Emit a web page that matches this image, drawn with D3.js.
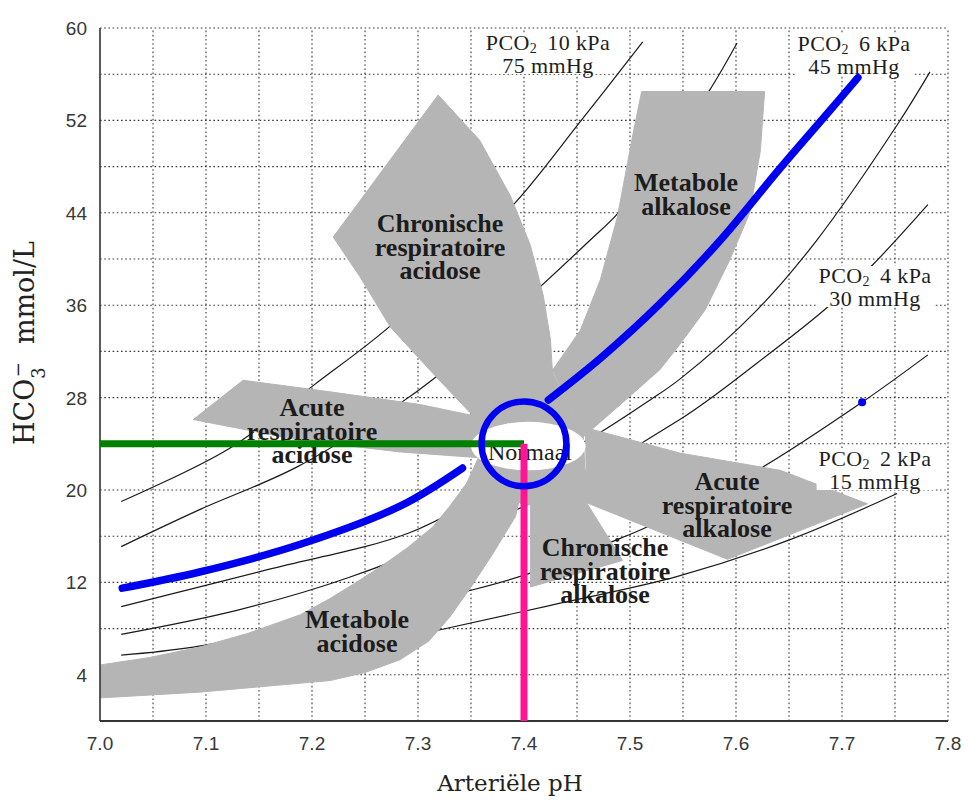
<!DOCTYPE html>
<html>
<head>
<meta charset="utf-8">
<script src="https://cdn.jsdelivr.net/npm/d3@7"></script>
<style>
  body { margin:0; background:#fff; }
  svg { display:block; }
</style>
</head>
<body>
<div id="chart"></div>
<script>
// axis ticks
const phTicks = ["7.0","7.1","7.2","7.3","7.4","7.5","7.6","7.7","7.8"];
const hco3Ticks = [60,52,44,36,28,20,12,4];

// PCO2 isopleths, [pH, HCO3]
const iso10 = [[7.02,19.0],[7.122,23.6],[7.202,29.1],[7.275,34.3],[7.33,39.3],[7.392,44.9],[7.454,52.0],[7.512,58.8]];
const iso8  = [[7.02,15.1],[7.094,18.3],[7.186,22.0],[7.283,27.5],[7.313,29.5],[7.39,35.5],[7.462,41.6],[7.489,44.0],[7.54,50.0],[7.575,54.6],[7.601,58.7]];
const iso5  = [[7.02,9.9],[7.158,13.1],[7.292,16.3],[7.38,20.5],[7.465,24.6],[7.519,27.8],[7.547,29.6],[7.62,35.6],[7.676,41.6],[7.752,51.6],[7.783,56.2]];
const iso4  = [[7.02,7.5],[7.13,9.6],[7.234,12.4],[7.40,18.6],[7.547,26.1],[7.62,31.0],[7.686,35.8],[7.729,39.5],[7.781,44.7]];
const iso3  = [[7.02,5.7],[7.088,6.4],[7.22,8.7],[7.349,11.3],[7.406,12.8],[7.493,15.9],[7.516,16.8],[7.62,21.7],[7.719,27.6],[7.781,31.7]];
const iso2  = [[7.02,3.7],[7.2,5.6],[7.321,7.9],[7.434,10.2],[7.544,12.5],[7.651,15.7],[7.752,19.7]];

// 6 kPa isopleth, drawn in blue
const blueLow  = [[7.021,11.5],[7.094,12.9],[7.189,15.3],[7.283,18.6],[7.342,21.9]];
const blueHigh = [[7.423,27.8],[7.472,31.4],[7.528,36.1],[7.585,41.6],[7.642,47.9],[7.689,52.9],[7.715,55.7]];
const bluePoint = [7.719,27.6];

// grey regions (outlines as [pH, HCO3])
const chronAcid = [[7.319,54.2],[7.358,50.3],[7.387,45.5],[7.406,41.2],[7.418,36.9],[7.425,33.0],[7.427,30.0],[7.406,25.2],[7.349,26.7],[7.314,30.1],[7.274,34.1],[7.245,38.5],[7.220,41.9]];
const metAlk    = [[7.511,54.5],[7.627,54.5],[7.623,49.4],[7.613,44.0],[7.594,39.9],[7.571,35.6],[7.547,32.6],[7.528,30.4],[7.491,27.4],[7.456,24.6],[7.427,30.4],[7.453,33.8],[7.472,38.2],[7.488,43.6],[7.503,50.9]];
const acuteAcid = [[7.088,26.1],[7.135,29.5],[7.217,28.5],[7.302,27.4],[7.349,26.5],[7.357,22.8],[7.283,23.3],[7.189,24.3]];
const metAcid   = [[7.0,2.0],[7.094,2.5],[7.217,3.5],[7.25,4.2],[7.283,5.3],[7.31,6.9],[7.33,9.0],[7.35,11.6],[7.37,14.4],[7.392,17.7],[7.40,21.0],
                   [7.357,22.8],[7.346,20.6],[7.33,18.6],[7.314,16.8],[7.29,15.0],[7.267,13.5],[7.24,11.9],[7.217,10.6],[7.189,9.2],[7.14,7.6],[7.094,6.4],[7.047,5.5],[7.0,4.85]];
const chronAlk  = [[7.40,22.0],[7.406,19.7],[7.406,11.6],[7.493,13.9],[7.459,18.9],[7.462,21.7]];
const acuteAlk  = [[7.458,25.4],[7.547,23.2],[7.642,21.7],[7.724,18.8],[7.592,14.0],[7.459,18.9]];
const centre    = [[7.349,26.5],[7.427,30.2],[7.456,24.6],[7.459,18.9],[7.398,18.7],[7.357,22.8]];

const normal = [7.4, 24];
const normalEllipse = [7.404, 23.8];

const pco2Kpa  = [10, 6, 4, 2];
const pco2MmHg = [75, 45, 30, 15];
const regionNames = [
  ["Chronische","respiratoire","acidose"],
  ["Metabole","alkalose"],
  ["Acute","respiratoire","acidose"],
  ["Acute","respiratoire","alkalose"],
  ["Chronische","respiratoire","alkalose"],
  ["Metabole","acidose"]
];

let width = 969, height = 800,
    margin = { top:28, right:21, bottom:79, left:100 };

let xScale = d3.scaleLinear().domain([7.0,7.8]).range([margin.left, width - margin.right]);
let yScale = d3.scaleLinear().domain([0,60]).range([height - margin.bottom, margin.top]);

let svg = d3.select("#chart").append("svg").attr("width",width).attr("height",height);
svg.append("rect").attr("width",width).attr("height",height).attr("fill","#fff");

svg.append("clipPath").attr("id","plot").append("rect")
   .attr("x",xScale(7.0)).attr("y",yScale(60))
   .attr("width",xScale(7.8)-xScale(7.0)).attr("height",yScale(0)-yScale(60));

// dotted grid
let grid = svg.append("g").attr("stroke","#3a3a3a").attr("stroke-width",1.1).attr("stroke-dasharray","1.6,2.6");
grid.selectAll("line.h").data(d3.range(4, 61, 4)).enter().append("line")
    .attr("x1",xScale(7.0)).attr("x2",xScale(7.8))
    .attr("y1",d=>yScale(d)).attr("y2",d=>yScale(d));
grid.selectAll("line.v").data(d3.range(1, 17).map(i => 7 + i*0.05)).enter().append("line")
    .attr("y1",yScale(0)).attr("y2",yScale(60))
    .attr("x1",d=>xScale(d)).attr("x2",d=>xScale(d));

let g = svg.append("g").attr("clip-path","url(#plot)");

let lineGen = d3.line().x(d=>xScale(d[0])).y(d=>yScale(d[1])).curve(d3.curveCatmullRom.alpha(0.5));
let areaGen = d3.line().x(d=>xScale(d[0])).y(d=>yScale(d[1])).curve(d3.curveLinearClosed);

g.selectAll("path.iso").data([iso10, iso8, iso5, iso4, iso3, iso2]).enter().append("path")
  .attr("d",lineGen).attr("fill","none").attr("stroke","#1a1a1a").attr("stroke-width",1.2);

g.selectAll("path.zone").data([chronAcid, metAlk, acuteAcid, metAcid, chronAlk, acuteAlk, centre]).enter().append("path")
  .attr("d",areaGen).attr("fill","#b5b5b5").attr("stroke","#b5b5b5").attr("stroke-width",1);

g.append("ellipse")
  .attr("cx",xScale(normalEllipse[0])).attr("cy",yScale(normalEllipse[1]))
  .attr("rx",xScale(7.458)-xScale(7.404)).attr("ry",yScale(0)-yScale(2.1))
  .attr("fill","#fff");

// axis lines
svg.append("line").attr("x1",xScale(7.0)).attr("x2",xScale(7.0)).attr("y1",yScale(0)).attr("y2",yScale(60))
   .attr("stroke","#333").attr("stroke-width",1.6);
svg.append("line").attr("x1",xScale(7.0)).attr("x2",xScale(7.8)).attr("y1",yScale(0)).attr("y2",yScale(0))
   .attr("stroke","#333").attr("stroke-width",2);

// tick labels
svg.selectAll("text.xt").data(phTicks).enter().append("text")
   .attr("x",d=>xScale(+d)).attr("y",yScale(0)+29)
   .attr("text-anchor","middle").attr("font-family","'Liberation Sans', Arial, sans-serif")
   .attr("font-size",19).attr("fill","#383838").text(d=>d);
svg.selectAll("text.yt").data(hco3Ticks).enter().append("text")
   .attr("x",xScale(7.0)-13).attr("y",d=>yScale(d)+7)
   .attr("text-anchor","end").attr("font-family","'Liberation Sans', Arial, sans-serif")
   .attr("font-size",19).attr("fill","#383838").text(d=>d);

// axis titles
svg.append("text").attr("x",510).attr("y",791).attr("text-anchor","middle")
   .attr("font-family","'DejaVu Serif', serif").attr("font-size",23).attr("fill","#222")
   .text("Arteriële pH");
let yt = svg.append("text").attr("transform","translate(34,343) rotate(-90)").attr("text-anchor","middle")
   .attr("font-family","'DejaVu Serif', serif").attr("font-size",27).attr("fill","#222");
yt.append("tspan").text("HCO");
yt.append("tspan").attr("baseline-shift","sub").attr("font-size",18).text("3");
yt.append("tspan").attr("baseline-shift","super").attr("font-size",18).attr("dx",-10).text("−");
yt.append("tspan").attr("dx",18).text("mmol/L");

// PCO2 labels with white backing
let pcoPos = [[548,44],[854,45],[875,277],[875,460]];
let serif = "'Liberation Serif', 'Times New Roman', serif";
pco2Kpa.forEach((k,i) => {
  let lg = svg.append("g");
  let bg = lg.append("rect").attr("fill","#fff");
  let t1 = lg.append("text").attr("x",pcoPos[i][0]).attr("y",pcoPos[i][1]+6).attr("text-anchor","middle")
     .attr("font-family",serif).attr("font-size",22).attr("fill","#1e1e1e").attr("letter-spacing",0.4);
  t1.append("tspan").text("PCO");
  t1.append("tspan").attr("font-size",14).attr("dy",3).text("2");
  t1.append("tspan").attr("dx",10).attr("dy",-3).text(k + " kPa");
  let t2 = lg.append("text").attr("x",pcoPos[i][0]).attr("y",pcoPos[i][1]+29).attr("text-anchor","middle")
     .attr("font-family",serif).attr("font-size",22).attr("fill","#1e1e1e").attr("letter-spacing",0.4)
     .text(pco2MmHg[i] + " mmHg");
  let b1 = t1.node().getBBox(), b2 = t2.node().getBBox();
  let x0 = Math.min(b1.x,b2.x), x1 = Math.max(b1.x+b1.width,b2.x+b2.width);
  bg.attr("x",x0-2).attr("y",b1.y+3).attr("width",x1-x0+4).attr("height",b2.y+b2.height-b1.y-7);
});

// region labels
let regionPos = [[440,224],[686,183],[312,408],[727,482],[605,548],[357,620]];
regionNames.forEach((lines,i) => {
  lines.forEach((s,j) => svg.append("text").attr("text-anchor","middle")
     .attr("x",regionPos[i][0]).attr("y",regionPos[i][1]+8+j*23.5)
     .attr("font-family",serif).attr("font-weight","bold")
     .attr("font-size",26).attr("fill","#1c1c1c").text(s));
});

svg.append("text").attr("x",530).attr("y",460).attr("text-anchor","middle")
   .attr("font-family",serif).attr("font-size",24)
   .attr("fill","#1c1c1c").text("Normaal");

// normal value guides
svg.append("line").attr("x1",xScale(7.0)).attr("x2",xScale(normal[0]))
   .attr("y1",yScale(normal[1])).attr("y2",yScale(normal[1]))
   .attr("stroke","#008000").attr("stroke-width",7);
svg.append("line").attr("x1",xScale(normal[0])).attr("x2",xScale(normal[0]))
   .attr("y1",yScale(normal[1])).attr("y2",yScale(0))
   .attr("stroke","#ff1493").attr("stroke-width",7);

// blue 6 kPa curve, circle and point
svg.selectAll("path.blue").data([blueLow, blueHigh]).enter().append("path")
   .attr("d",lineGen).attr("fill","none").attr("stroke","#0000f0")
   .attr("stroke-width",7.5).attr("stroke-linecap","round");
svg.append("circle").attr("cx",xScale(normal[0])).attr("cy",yScale(normal[1]))
   .attr("r",xScale(7.44)-xScale(7.4)).attr("fill","none").attr("stroke","#0000f0").attr("stroke-width",6.5);
svg.append("circle").attr("cx",xScale(bluePoint[0])).attr("cy",yScale(bluePoint[1]))
   .attr("r",4).attr("fill","#0000f0");
</script>
</body>
</html>
